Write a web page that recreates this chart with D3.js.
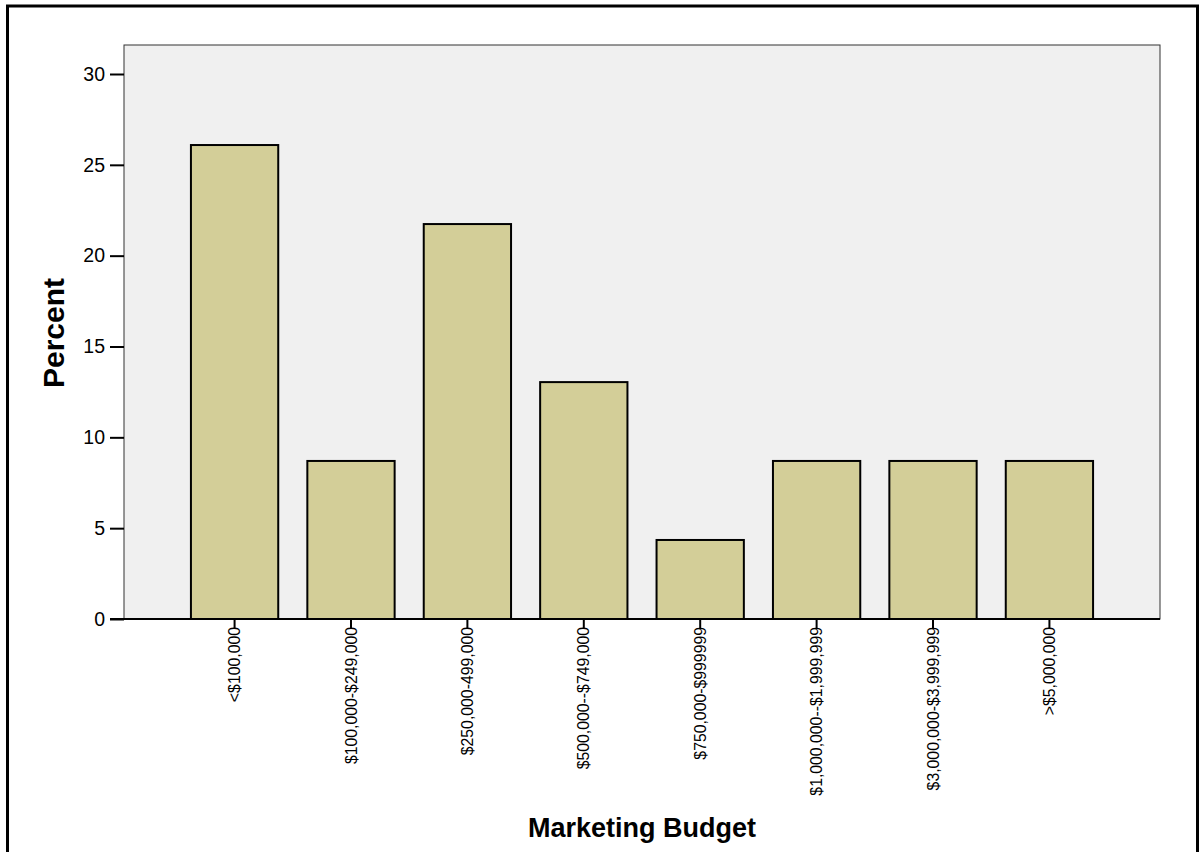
<!DOCTYPE html>
<html>
<head>
<meta charset="utf-8">
<script src="https://cdn.jsdelivr.net/npm/d3@7"></script>
<style>
  body { margin: 0; background: #fff; }
  svg { display: block; font-family: Arial, "Liberation Sans", sans-serif; }
</style>
</head>
<body>
<div id="chart"></div>
<script>
// data
const categories = ["<$100,000", "$100,000-$249,000", "$250,000-499,000", "$500,000--$749,000",
  "$750,000-$999999", "$1,000,000--$1,999,999", "$3,000,000-$3,999,999", ">$5,000,000"];
const percents = [26.09, 8.70, 21.74, 13.04, 4.35, 8.70, 8.70, 8.70];
const yTicks = [0, 5, 10, 15, 20, 25, 30];

const width = 1204, height = 852;
const plot = {left: 124, right: 1160, top: 45, bottom: 619};

const svg = d3.select("#chart")
  .append("svg")
    .attr("width", width)
    .attr("height", height);

// outer frame
svg.append("rect")
  .attr("x", 7.5).attr("y", 6)
  .attr("width", 1190).attr("height", 900)
  .attr("fill", "none")
  .attr("stroke", "#000")
  .attr("stroke-width", 3);

const x = d3.scaleBand()
  .domain(categories)
  .range([plot.left, plot.right])
  .paddingInner(0.25)
  .paddingOuter(0.575);

const y = d3.scaleLinear()
  .domain([0, 30])
  .range([plot.bottom, plot.bottom - 545]);

// plot background
svg.append("rect")
  .attr("x", plot.left).attr("y", plot.top)
  .attr("width", plot.right - plot.left)
  .attr("height", plot.bottom - plot.top)
  .attr("fill", "#f0f0f0")
  .attr("stroke", "#333")
  .attr("stroke-width", 1);

// bars
svg.selectAll(".bar")
  .data(percents)
  .join("rect")
    .attr("class", "bar")
    .attr("x", (d, i) => x(categories[i]))
    .attr("y", d => y(d))
    .attr("width", x.bandwidth())
    .attr("height", d => y(0) - y(d))
    .attr("fill", "#d3ce98")
    .attr("stroke", "#000")
    .attr("stroke-width", 2);

// y axis
const yAxis = svg.append("g")
  .attr("transform", `translate(${plot.left},0)`)
  .call(d3.axisLeft(y).tickValues(yTicks).tickSize(14).tickPadding(5).tickFormat(d3.format("d")));
yAxis.select(".domain").remove();
yAxis.selectAll(".tick line").attr("stroke", "#000").attr("stroke-width", 2);
yAxis.selectAll(".tick text")
  .attr("fill", "#000")
  .style("font-size", "19.5px")
  .style("font-family", "Arial, 'Liberation Sans', sans-serif");

// x axis
const xAxis = svg.append("g")
  .attr("transform", `translate(0,${plot.bottom})`)
  .call(d3.axisBottom(x).tickSize(9).tickPadding(0));
xAxis.select(".domain").remove();
xAxis.selectAll(".tick line").attr("stroke", "#000").attr("stroke-width", 2);
xAxis.selectAll(".tick text")
  .attr("fill", "#000")
  .attr("transform", "rotate(-90)")
  .attr("text-anchor", "end")
  .attr("x", -8)
  .attr("y", 0)
  .attr("dy", "0.35em")
  .style("font-size", "15.8px")
  .style("font-family", "Arial, 'Liberation Sans', sans-serif");

// bottom baseline extending to the y ticks
svg.append("line")
  .attr("x1", plot.left - 14).attr("x2", plot.right)
  .attr("y1", plot.bottom).attr("y2", plot.bottom)
  .attr("stroke", "#000")
  .attr("stroke-width", 2);

// axis titles
svg.append("text")
  .attr("transform", `translate(64,${(plot.top + plot.bottom) / 2 + 1}) rotate(-90)`)
  .attr("text-anchor", "middle")
  .style("font-size", "30px")
  .style("font-weight", "bold")
  .text("Percent");

svg.append("text")
  .attr("x", 642)
  .attr("y", 837)
  .attr("text-anchor", "middle")
  .style("font-size", "27px")
  .style("font-weight", "bold")
  .text("Marketing Budget");
</script>
</body>
</html>
